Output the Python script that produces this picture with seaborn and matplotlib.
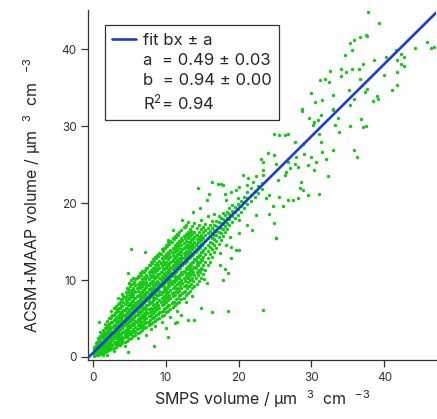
import matplotlib
matplotlib.use("Agg")
import matplotlib.pyplot as plt
from matplotlib.lines import Line2D
import seaborn as sns
import pandas as pd

# fit results shown in the legend
fit_a = 0.49
fit_b = 0.94

core_smps = [0.15, 0.45, 0.75, 1.05, 1.35, 1.65, 1.95, 2.25, 2.55, 2.85, 3.15, 3.45, 3.75, 4.05,
             4.35, 4.65, 4.95, 5.25, 5.55, 5.85, 6.15, 6.45, 6.75, 7.05, 7.35, 7.65, 7.95, 8.25,
             8.55, 8.85, 9.15, 9.45, 9.75, 10.05, 10.35, 10.65, 10.95, 11.25, 11.55, 11.85, 12.15,
             12.45, 12.75, 13.05, 13.35, 13.65, 13.95, 14.25, 14.55, 14.85, 15.15, 15.45, 15.75,
             16.05, 16.35, 16.65, 16.95, 17.25, 17.55, 17.85, 18.15, 18.45, 18.75, 19.1, 19.5,
             19.9, 20.3, 20.7, 21.2, 21.7, 22.2, 22.7, 23.2]
core_acsm = [
    [0.1, 0.4, 0.7, 1.0, 1.3],
    [0.2, 0.5, 0.8, 1.1, 1.4, 1.8],
    [0.3, 0.7, 1.0, 1.3, 1.6, 2.0, 2.5],
    [0.4, 0.8, 1.2, 1.5, 1.8, 2.2, 2.7, 3.2],
    [0.5, 1.0, 1.4, 1.7, 2.0, 2.4, 2.9, 3.5, 0.2],
    [0.7, 1.2, 1.6, 1.9, 2.2, 2.6, 3.1, 3.7, 4.3],
    [0.8, 1.3, 1.8, 2.1, 2.5, 2.9, 3.4, 4.0, 4.7, 0.3],
    [0.9, 1.5, 2.0, 2.4, 2.8, 3.2, 3.7, 4.3, 5.0, 1.2],
    [1.0, 1.7, 2.2, 2.6, 3.0, 3.4, 3.9, 4.5, 5.2, 6.0, 1.4],
    [1.2, 1.9, 2.4, 2.9, 3.3, 3.7, 4.2, 4.8, 5.5, 6.3, 0.8],
    [1.3, 2.0, 2.6, 3.1, 3.5, 4.0, 4.5, 5.1, 5.8, 6.6, 1.7],
    [1.5, 2.2, 2.8, 3.3, 3.8, 4.2, 4.7, 5.3, 6.0, 6.9, 2.5, 7.6],
    [1.6, 2.4, 3.0, 3.6, 4.0, 4.5, 5.0, 5.6, 6.3, 7.2, 2.0, 4.8],
    [1.8, 2.6, 3.3, 3.8, 4.3, 4.8, 5.3, 5.9, 6.6, 7.5, 2.2, 8.2],
    [2.0, 2.8, 3.5, 4.1, 4.6, 5.0, 5.5, 6.1, 6.9, 7.8, 1.4, 3.2],
    [2.1, 3.0, 3.7, 4.3, 4.8, 5.3, 5.8, 6.4, 7.2, 8.1, 2.6, 9.0],
    [2.3, 3.2, 3.9, 4.5, 5.1, 5.6, 6.1, 6.7, 7.5, 8.4, 9.6, 4.0, 5.9],
    [2.5, 3.4, 4.2, 4.8, 5.4, 5.9, 6.4, 7.0, 7.8, 8.7, 10.0, 3.0, 6.7],
    [2.7, 3.6, 4.4, 5.1, 5.7, 6.2, 6.7, 7.3, 8.1, 9.0, 10.3, 4.9, 8.6],
    [2.9, 3.9, 4.7, 5.4, 6.0, 6.5, 7.0, 7.6, 8.4, 9.3, 10.1, 3.3, 6.8],
    [3.1, 4.1, 4.9, 5.6, 6.2, 6.8, 7.3, 7.9, 8.6, 9.5, 10.5, 2.4, 5.9],
    [3.3, 4.3, 5.2, 5.9, 6.5, 7.0, 7.6, 8.2, 8.9, 9.8, 10.9, 4.7, 7.3],
    [3.5, 4.6, 5.4, 6.1, 6.8, 7.3, 7.9, 8.5, 9.2, 10.1, 11.2, 3.9, 6.4],
    [3.7, 4.8, 5.7, 6.4, 7.1, 7.6, 8.2, 8.8, 9.5, 10.4, 11.0, 5.2, 7.8],
    [3.9, 5.0, 5.9, 6.7, 7.4, 7.9, 8.5, 9.1, 9.8, 10.7, 11.6, 2.9, 6.2],
    [4.1, 5.3, 6.2, 6.9, 7.6, 8.2, 8.8, 9.4, 10.1, 11.0, 12.0, 4.6, 7.3],
    [4.3, 5.5, 6.4, 7.2, 7.9, 8.5, 9.0, 9.6, 10.4, 11.3, 12.3, 3.6, 8.7],
    [4.5, 5.7, 6.7, 7.4, 8.2, 8.7, 9.3, 9.9, 10.7, 11.6, 12.7, 5.0, 7.8],
    [4.7, 6.0, 6.9, 7.7, 8.5, 9.0, 9.6, 10.2, 11.0, 11.9, 13.0, 4.0, 8.2],
    [4.9, 6.2, 7.2, 8.0, 8.8, 9.3, 9.9, 10.5, 11.3, 12.2, 13.3, 6.6, 9.6],
    [5.1, 6.4, 7.4, 8.2, 9.1, 9.6, 10.2, 10.8, 11.6, 12.5, 13.5, 5.8, 8.6],
    [5.3, 6.7, 7.7, 8.5, 9.3, 9.9, 10.5, 11.1, 11.8, 12.8, 14.0, 4.6, 10.0],
    [5.5, 6.9, 7.9, 8.8, 9.6, 10.2, 10.8, 11.4, 12.1, 13.1, 14.2, 6.2, 9.2],
    [5.8, 7.1, 8.2, 9.0, 9.9, 10.5, 11.1, 11.7, 12.4, 13.4, 14.6, 3.8, 8.6],
    [6.0, 7.4, 8.4, 9.3, 10.2, 10.8, 11.4, 12.0, 12.7, 13.6, 14.9, 6.8, 9.7],
    [6.2, 7.6, 8.7, 9.6, 10.5, 11.1, 11.7, 12.3, 13.0, 13.9, 15.1, 5.2, 10.0],
    [6.5, 7.9, 9.0, 9.9, 10.8, 11.4, 12.0, 12.6, 13.3, 14.2, 15.4, 7.2, 11.6],
    [6.7, 8.1, 9.2, 10.1, 11.0, 11.7, 12.3, 12.9, 13.6, 14.5, 15.7, 4.4, 10.5],
    [7.0, 8.4, 9.5, 10.4, 11.3, 12.0, 12.6, 13.2, 13.9, 14.8, 16.0, 6.0, 11.9],
    [7.2, 8.6, 9.8, 10.7, 11.6, 12.2, 12.9, 13.5, 14.2, 15.1, 16.3, 8.1, 10.2],
    [7.5, 8.9, 10.0, 11.0, 11.9, 12.5, 13.2, 13.8, 14.5, 15.4, 16.5, 5.5, 12.8],
    [7.7, 9.2, 10.3, 11.2, 12.2, 12.8, 13.5, 14.1, 14.8, 15.7, 16.9, 8.4],
    [8.0, 9.4, 10.6, 11.5, 12.5, 13.1, 13.8, 14.4, 15.1, 16.0, 17.2, 7.1],
    [8.3, 9.7, 10.9, 11.8, 12.8, 13.4, 14.1, 14.7, 15.4, 16.3, 17.6, 10.3],
    [8.6, 10.0, 11.2, 12.1, 13.0, 13.7, 14.4, 15.0, 15.7, 16.6, 11.6],
    [8.9, 10.3, 11.4, 12.4, 13.3, 14.0, 14.7, 15.3, 16.0, 17.0, 7.9],
    [9.2, 10.6, 11.7, 12.7, 13.6, 14.3, 15.0, 15.6, 16.3, 17.4],
    [9.5, 11.0, 12.0, 13.0, 13.9, 14.6, 15.3, 15.9, 16.7, 12.4],
    [9.9, 11.3, 12.4, 13.3, 14.2, 14.9, 15.6, 16.2, 17.1],
    [10.3, 11.6, 12.7, 13.6, 14.5, 15.2, 15.9, 16.6, 17.8],
    [10.8, 12.0, 13.0, 13.9, 14.8, 15.5, 16.2, 16.9],
    [11.3, 12.4, 13.4, 14.2, 15.1, 15.8, 16.5, 17.3],
    [11.9, 12.9, 13.8, 14.6, 15.4, 16.1, 16.8, 18.3],
    [12.4, 13.4, 14.3, 15.0, 15.7, 16.4, 17.2],
    [13.0, 14.0, 14.8, 15.4, 16.1, 16.8, 17.7],
    [13.6, 14.6, 15.3, 15.9, 16.5, 17.2, 18.6],
    [14.1, 15.1, 15.8, 16.4, 17.0, 17.7],
    [14.7, 15.6, 16.3, 16.9, 17.5, 18.3],
    [15.2, 16.1, 16.8, 17.4, 18.0],
    [15.7, 16.6, 17.3, 17.9, 18.7],
    [16.2, 17.0, 17.7, 18.4],
    [16.6, 17.4, 18.1, 18.9],
    [17.1, 17.9, 18.6, 19.4],
    [17.6, 18.3, 19.0, 19.8],
    [18.0, 18.8, 19.5],
    [18.5, 19.2, 19.9, 20.6],
    [18.9, 19.6, 20.3],
    [19.3, 20.1, 20.8],
    [19.9, 20.6, 21.4],
    [20.3, 21.1, 21.9],
    [20.8, 21.6],
    [21.3, 22.2],
    [21.8, 22.6],
]

# second pass over the densest part (in between the columns above)
core2_smps = [0.3, 0.6, 0.9, 1.2, 1.5, 1.8, 2.1, 2.4, 2.7, 3.0, 3.3, 3.6, 3.9, 4.2, 4.5, 4.8,
              5.1, 5.4, 5.7, 6.0, 6.3, 6.6, 6.9, 7.2, 7.5, 7.8, 8.1, 8.4, 8.7, 9.0, 9.3, 9.6,
              9.9, 10.2, 10.5, 10.8, 11.1, 11.4, 11.7, 12.0, 12.3, 12.6, 12.9, 13.2, 13.5, 13.8,
              14.1, 14.4, 14.7, 15.0]
core2_acsm = [
    [0.3, 0.6, 0.9, 1.2],
    [0.4, 0.8, 1.1, 1.5, 1.9],
    [0.6, 1.0, 1.4, 1.8, 2.3],
    [0.7, 1.2, 1.6, 2.0, 2.6, 3.0],
    [0.9, 1.4, 1.8, 2.3, 2.8, 3.3],
    [1.0, 1.6, 2.0, 2.5, 3.1, 3.7],
    [1.2, 1.8, 2.3, 2.8, 3.4, 4.1],
    [1.3, 2.0, 2.6, 3.1, 3.7, 4.4, 5.1],
    [1.5, 2.2, 2.8, 3.3, 3.9, 4.6, 5.4],
    [1.7, 2.4, 3.0, 3.6, 4.2, 4.9, 5.7],
    [1.9, 2.6, 3.3, 3.9, 4.5, 5.2, 6.1],
    [2.0, 2.8, 3.5, 4.1, 4.8, 5.5, 6.4],
    [2.2, 3.0, 3.8, 4.4, 5.1, 5.8, 6.8, 7.5],
    [2.4, 3.2, 4.0, 4.7, 5.4, 6.1, 7.1, 7.9],
    [2.6, 3.4, 4.2, 4.9, 5.6, 6.4, 7.4, 8.4],
    [2.8, 3.6, 4.5, 5.2, 5.9, 6.7, 7.7, 8.8],
    [3.0, 3.9, 4.7, 5.5, 6.2, 7.0, 8.0, 9.2],
    [3.2, 4.1, 5.0, 5.7, 6.5, 7.3, 8.3, 9.5],
    [3.4, 4.3, 5.2, 6.0, 6.8, 7.6, 8.6, 9.8],
    [3.6, 4.5, 5.5, 6.3, 7.1, 7.9, 8.9, 10.2],
    [3.8, 4.8, 5.7, 6.5, 7.3, 8.1, 9.2, 10.4],
    [4.0, 5.0, 6.0, 6.8, 7.6, 8.4, 9.5, 10.7],
    [4.2, 5.2, 6.2, 7.0, 7.9, 8.7, 9.8, 11.0],
    [4.4, 5.4, 6.5, 7.3, 8.2, 9.0, 10.1, 11.3],
    [4.6, 5.7, 6.7, 7.6, 8.4, 9.3, 10.4, 11.6],
    [4.8, 5.9, 7.0, 7.8, 8.7, 9.6, 10.7, 11.9],
    [5.0, 6.1, 7.2, 8.1, 9.0, 9.9, 11.0, 12.2],
    [5.2, 6.4, 7.5, 8.4, 9.3, 10.2, 11.3, 12.5],
    [5.4, 6.6, 7.7, 8.6, 9.6, 10.5, 11.6, 12.8],
    [5.6, 6.8, 8.0, 8.9, 9.8, 10.8, 11.9, 13.1],
    [5.8, 7.1, 8.2, 9.2, 10.1, 11.1, 12.2, 13.4],
    [6.0, 7.3, 8.5, 9.4, 10.4, 11.4, 12.5, 13.8],
    [6.3, 7.5, 8.7, 9.7, 10.7, 11.6, 12.8, 14.1],
    [6.5, 7.8, 9.0, 10.0, 11.0, 11.9, 13.1, 14.4],
    [6.7, 8.0, 9.2, 10.3, 11.3, 12.2, 13.4, 14.7],
    [7.0, 8.3, 9.5, 10.5, 11.5, 12.5, 13.7, 15.0],
    [7.2, 8.5, 9.8, 10.8, 11.8, 12.8, 14.0, 15.3],
    [7.5, 8.8, 10.0, 11.1, 12.1, 13.1, 14.3, 15.6],
    [7.7, 9.0, 10.3, 11.4, 12.4, 13.4, 14.6, 15.9],
    [8.0, 9.3, 10.6, 11.6, 12.7, 13.7, 14.9],
    [8.3, 9.6, 10.8, 11.9, 12.9, 14.0, 15.2],
    [8.6, 9.9, 11.1, 12.2, 13.2, 14.3, 15.5],
    [8.9, 10.2, 11.4, 12.5, 13.5, 14.6, 15.8],
    [9.2, 10.5, 11.7, 12.8, 13.8, 14.9, 16.1],
    [9.5, 10.8, 12.0, 13.1, 14.1, 15.2, 16.4],
    [9.9, 11.1, 12.3, 13.4, 14.4, 15.5],
    [10.2, 11.5, 12.6, 13.7, 14.7, 15.8],
    [10.6, 11.9, 13.0, 14.0, 15.0],
    [11.0, 12.3, 13.3, 14.3, 15.3],
    [11.4, 12.6, 13.7, 14.6, 15.6],
]

# scattered points (high end and outliers)
smps_sparse = [37.7, 39.2, 36.6, 37.5, 37.6, 35.8, 35.3, 35.6, 34.6, 45.8, 46.4, 46.8, 44.2, 41.6,
               42.3, 42.7, 41.8, 38.6, 40.2, 42.3, 42.7, 37.0, 36.5, 35.5, 34.1, 34.8, 34.1, 32.5,
               31.8, 31.2, 32.4, 36.7, 39.9, 41.7, 41.7, 41.1, 37.6, 37.4, 35.1, 32.9, 30.0, 30.5,
               31.5, 35.8, 39.0, 39.1, 38.4, 35.3, 32.9, 28.7,
               28.7, 29.6, 30.3, 30.2, 30.9, 31.3, 32.9, 33.2, 33.7, 33.8, 35.3, 36.8, 37.0, 37.5,
               35.9, 36.3, 32.9, 31.1, 31.3, 31.5, 32.0, 32.2, 30.6, 30.4, 29.5, 30.0, 29.0, 28.8,
               27.9, 27.8, 26.8, 24.9, 25.6, 26.3, 24.0, 24.9, 23.1, 23.3, 25.2, 26.8, 27.7, 28.1,
               27.0, 26.5, 28.6, 28.4, 28.8, 29.5, 31.1, 28.1, 25.6, 24.2, 23.8, 26.8, 27.4, 26.3,
               25.4, 23.3, 23.3, 22.4, 22.0, 20.6, 21.3, 21.1, 20.1, 19.7, 19.0, 18.1, 17.6, 18.3,
               24.7, 26.1,
               14.4, 16.3, 17.2, 17.8, 15.6, 16.0, 13.7, 14.7, 12.3, 12.6, 11.0, 10.3,
               20.1, 21.1, 22.4, 24.2, 24.9, 21.9, 20.1, 18.8, 25.2, 19.0, 20.1, 17.4,
               14.9, 16.4, 18.5, 23.4, 17.8, 18.5, 18.1, 17.5, 19.0, 19.7, 18.3, 15.6, 15.3, 25.1,
               5.2, 7.1, 4.8, 5.0, 0.9, 3.2, 13.0, 11.6, 8.4, 4.8, 10.3, 11.0, 13.9]
acsm_sparse = [44.9, 43.4, 41.6, 41.9, 41.7, 41.2, 40.8, 39.9, 39.3, 41.0, 40.2, 40.3, 40.2, 39.9,
               39.4, 39.0, 38.6, 38.6, 39.0, 38.1, 37.8, 38.1, 37.5, 37.5, 37.5, 37.0, 36.5, 37.2,
               36.2, 36.0, 35.8, 36.1, 36.6, 37.0, 35.3, 34.7, 34.8, 34.5, 34.7, 34.0, 34.3, 33.2,
               33.4, 33.5, 33.9, 33.6, 33.3, 32.8, 32.2, 32.2,
               32.0, 31.1, 30.6, 30.1, 30.8, 31.4, 32.1, 30.1, 31.0, 29.3, 30.0, 30.9, 29.9, 30.0,
               26.9, 26.0, 26.9, 29.0, 28.0, 26.7, 25.7, 23.5, 25.4, 24.3, 24.9, 26.0, 26.4, 27.7,
               26.0, 28.0, 29.0, 29.0, 28.8, 28.8, 26.5, 26.2, 25.7, 25.4, 25.1, 25.4, 25.1, 24.7,
               24.5, 24.1, 22.8, 22.0, 21.7, 21.0, 21.2, 20.6, 20.8, 21.0, 20.6, 20.4, 20.4, 23.6,
               23.0, 24.3, 23.6, 23.5, 22.8, 23.6, 23.2, 22.3, 22.1, 21.7, 21.5, 21.2, 22.5, 20.4,
               19.6, 19.6,
               21.9, 22.8, 22.5, 22.3, 20.4, 21.2, 18.9, 19.3, 17.8, 16.9, 16.5, 15.2,
               17.8, 17.1, 18.4, 18.6, 17.4, 16.5, 16.1, 15.6, 15.4, 14.3, 13.9, 13.5,
               6.3, 5.9, 6.0, 6.1, 10.0, 10.9, 11.4, 11.9, 12.8, 13.9, 14.5, 9.6, 10.1, 15.4,
               14.0, 13.6, 10.9, 9.6, 4.6, 6.3, 4.8, 4.6, 1.4, 0.6, 2.6, 6.5, 4.8]

x_range = [-0.68, 47.1]
y_range = [-0.39, 45.1]

# build one table from the columns + scattered points
rows = []
for sx, col in zip(core_smps + core2_smps, core_acsm + core2_acsm):
    for val in col:
        rows.append({"smps": sx, "acsm": val})
for sx, val in zip(smps_sparse, acsm_sparse):
    rows.append({"smps": sx, "acsm": val})
df = pd.DataFrame(rows)

fit_df = pd.DataFrame({"smps": x_range, "acsm": [fit_b * v + fit_a for v in x_range]})

sns.set_theme(style="ticks")
plt.rcParams["font.family"] = ["Inter", "DejaVu Sans"]
plt.rcParams["mathtext.fontset"] = "custom"
plt.rcParams["mathtext.rm"] = "Inter"
plt.rcParams["mathtext.it"] = "Inter:italic"

fig = plt.figure(figsize=(4.37, 4.19), dpi=100)
ax = fig.add_axes([0.201, 0.141, 0.797, 0.835])

green = "#14c814"
blue = "#1c3cd2"

sns.scatterplot(x="smps", y="acsm", data=df, ax=ax, s=6, color=green,
                linewidth=0, legend=False, zorder=2)
sns.lineplot(x="smps", y="acsm", data=fit_df, ax=ax, color=blue, linewidth=1.9,
             zorder=3, legend=False)

ax.set_xlim(*x_range)
ax.set_ylim(*y_range)
ax.set_xticks([0, 10, 20, 30, 40])
ax.set_yticks([0, 10, 20, 30, 40])

for side in ["top", "right"]:
    ax.spines[side].set_visible(False)
for side in ["left", "bottom"]:
    ax.spines[side].set_color("#333333")
    ax.spines[side].set_linewidth(0.9)
ax.tick_params(axis="both", direction="out", length=5, width=0.9, color="#333333",
               labelsize=8.5, labelcolor="#333333")
ax.tick_params(axis="x", pad=4)
ax.tick_params(axis="y", pad=3)

ax.set_xlabel(r"SMPS volume / $\mathrm{\mu}$m  $^3$  cm  $^{-3}$", fontsize=11.5, labelpad=3)
ax.set_ylabel(r"ACSM+MAAP volume / $\mathrm{\mu}$m  $^3$  cm  $^{-3}$", fontsize=11.5)
ax.yaxis.set_label_coords(-0.128, 0.47)

# legend box with fit results
handles = [Line2D([], [], color=blue, linewidth=1.9)] + [Line2D([], [], linestyle="none")] * 3
labels = ["fit bx ± a", "a  = %.2f ± 0.03" % fit_a, "b  = %.2f ± 0.00" % fit_b,
          "R$^2$= 0.94"]
leg = ax.legend(handles, labels, loc="upper left", bbox_to_anchor=(0.049, 0.957),
                fontsize=12, frameon=True, fancybox=False, framealpha=1,
                handlelength=1.4, handletextpad=0.45, labelspacing=0.3,
                borderpad=0.45, borderaxespad=0)
leg.get_frame().set_edgecolor("#333333")
leg.get_frame().set_linewidth(0.9)

plt.savefig("out.png", dpi=100)
plt.close()
